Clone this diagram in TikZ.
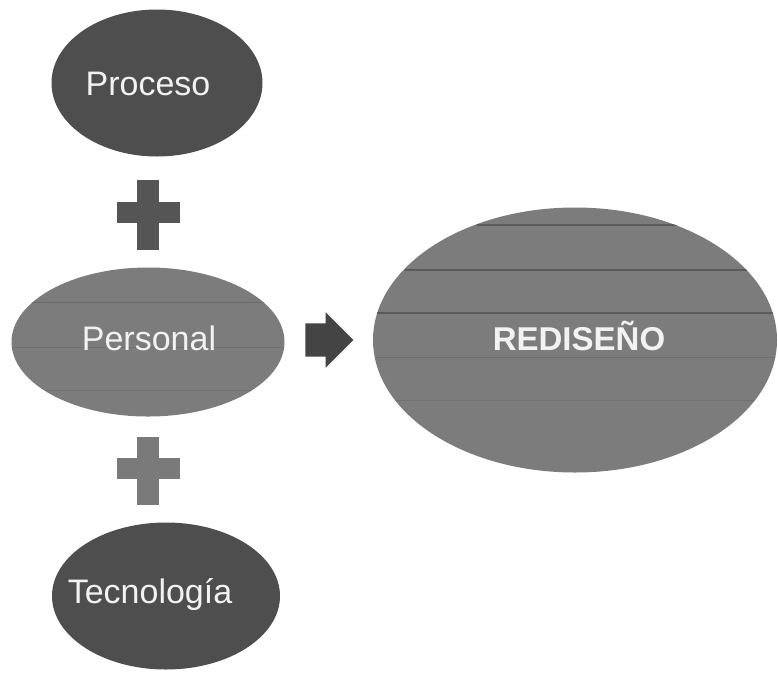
\documentclass[tikz,border=0pt]{standalone}
\usepackage{fontspec}
\setmainfont{Liberation Sans}
\usetikzlibrary{shapes.geometric,shapes.arrows}
\definecolor{darkfill}{HTML}{4E4E4E}
\definecolor{midfill}{HTML}{7C7C7C}
\definecolor{plusdark}{HTML}{555555}
\definecolor{pluslight}{HTML}{7A7A7A}
\definecolor{arrowfill}{HTML}{444444}
\definecolor{txt}{HTML}{F2F2F2}
\definecolor{scanline}{HTML}{5A5A5A}
\tikzset{
  oval/.style={ellipse, inner sep=0pt, draw=none},
  lbl/.style={text=txt, anchor=base, inner sep=0pt, font=\fontsize{34}{40}\selectfont},
  plusbar/.style={inner sep=0pt, draw=none}
}
\begin{document}
\begin{tikzpicture}[x=1pt,y=-1pt]
\useasboundingbox (0,0) rectangle (778,673);
\fill[white] (0,0) rectangle (778,673);
% ellipses
\node[oval, fill=darkfill, minimum width=211pt, minimum height=147pt] (proceso) at (157,83) {};
\node[oval, fill=midfill, minimum width=273pt, minimum height=149pt] (personal) at (148,342) {};
\node[oval, fill=darkfill, minimum width=228pt, minimum height=147pt] (tecno) at (166,596) {};
\node[oval, fill=midfill, minimum width=404pt, minimum height=265pt] (rediseno) at (575,340) {};
% scan lines
\begin{scope}
\clip (148,342) ellipse [x radius=136.5, y radius=74.5];
\draw[scanline, line width=0.8pt, opacity=0.5] (0,302) -- (300,302);
\draw[scanline, line width=0.6pt, opacity=0.35] (0,347) -- (300,347);
\draw[scanline, line width=0.6pt, opacity=0.3] (0,390) -- (300,390);
\end{scope}
\begin{scope}
\clip (575,340) ellipse [x radius=202, y radius=132.5];
\draw[scanline, line width=1.8pt] (477,225) -- (683,225);
\draw[scanline, line width=1.6pt] (405,270) -- (753,270);
\draw[scanline, line width=1.2pt] (370,313) -- (778,313);
\draw[scanline, line width=0.6pt, opacity=0.4] (370,357) -- (778,357);
\draw[scanline, line width=0.6pt, opacity=0.3] (370,400) -- (778,400);
\end{scope}
% labels
\node[lbl] (proclabel) at (148,95) {Proceso};
\node[lbl] (perslabel) at (149,350) {Personal};
\node[lbl] (teclabel) at (150,603) {Tecnología};
\node[lbl, font=\bfseries\fontsize{33}{40}\selectfont] (redlabel) at (579,350) {REDISEÑO};
% plus signs
\node[plusbar, fill=plusdark, minimum width=63pt, minimum height=21pt] (plusAh) at (148,212) {};
\node[plusbar, fill=plusdark, minimum width=22pt, minimum height=70pt] (plusAv) at (148,215) {};
\node[plusbar, fill=pluslight, minimum width=63pt, minimum height=21pt] (plusBh) at (148,468) {};
\node[plusbar, fill=pluslight, minimum width=22pt, minimum height=68pt] (plusBv) at (148,471) {};
% arrow
\node[single arrow, fill=arrowfill, draw=none, inner sep=0pt, minimum height=48pt, minimum width=55pt, single arrow head extend=11pt, single arrow tip angle=90] (arr) at (321,340) {\rule{0pt}{33pt}};
\end{tikzpicture}
\end{document}
